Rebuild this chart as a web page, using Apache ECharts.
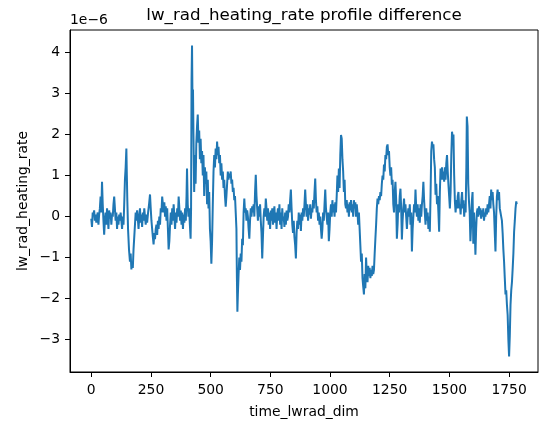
<!DOCTYPE html>
<html>
<head>
<meta charset="utf-8">
<script src="https://cdn.jsdelivr.net/npm/echarts@6/dist/echarts.min.js"></script>
<style>
html,body{margin:0;padding:0;background:#fff;}
#chart{width:541px;height:427px;}
</style>
</head>
<body>
<div id="chart"></div>
<script>
// x positions (time_lwrad_dim index)
var time_idx = [
0,3,6,9,12,15,18,21,24,27,
30,33,36,39,42,45,48,51,54,57,
60,63,66,69,72,75,78,81,84,87,
90,93,96,99,102,105,108,111,114,117,
120,123,126,129,132,135,138,141,144,147,
149,151,154,158,162,165,168,171,174,177,
180,183,186,189,192,195,198,201,204,207,
210,213,216,219,222,225,228,231,234,238,
242,246,249,252,255,258,261,264,267,270,
273,276,279,282,285,288,291,294,297,300,
303,306,309,312,315,318,321,324,327,330,
333,336,339,342,345,348,351,354,357,360,
363,366,369,372,375,378,381,384,387,390,
393,396,399,401,404,407,410,413,416,418,
420,422,424,426,428,431,434,437,440,443,
446,449,452,455,458,461,464,467,470,473,
476,479,482,485,488,491,494,497,500,503,
506,509,512,515,518,521,524,527,530,533,
536,539,542,545,548,551,554,557,560,563,
566,569,572,575,578,581,584,587,590,593,
596,599,602,605,608,610,612,614,617,620,
623,626,629,632,635,638,641,644,647,650,
653,656,659,662,665,668,671,674,677,680,
683,686,689,692,695,698,701,704,707,710,
713,716,719,722,725,728,731,734,737,740,
743,746,749,752,755,758,761,764,767,770,
773,776,779,782,785,788,791,794,797,800,
803,806,809,812,815,818,821,824,827,830,
833,836,839,842,845,848,851,854,857,860,
863,866,869,872,875,878,881,884,887,890,
893,896,899,902,905,908,911,914,917,920,
923,926,929,932,935,938,941,944,947,950,
953,956,959,962,965,968,971,974,977,980,
983,986,989,992,995,998,1001,1004,1007,1010,
1013,1016,1019,1022,1025,1028,1031,1034,1037,1040,
1043,1046,1049,1052,1055,1058,1061,1064,1067,1070,
1073,1076,1079,1082,1085,1088,1091,1094,1097,1100,
1103,1106,1109,1112,1115,1118,1121,1124,1127,1130,
1133,1136,1139,1142,1145,1148,1151,1154,1157,1160,
1163,1166,1169,1172,1175,1178,1181,1184,1187,1190,
1193,1196,1199,1202,1205,1208,1211,1214,1217,1220,
1223,1226,1229,1232,1235,1238,1241,1244,1247,1250,
1253,1256,1259,1262,1265,1268,1271,1274,1277,1280,
1283,1286,1289,1292,1295,1298,1301,1304,1307,1310,
1313,1316,1319,1322,1325,1328,1331,1334,1337,1340,
1343,1346,1349,1352,1355,1358,1361,1364,1367,1370,
1373,1376,1379,1382,1385,1388,1391,1394,1397,1400,
1403,1406,1409,1412,1415,1418,1421,1424,1427,1430,
1433,1436,1439,1442,1445,1448,1451,1454,1457,1460,
1463,1466,1469,1472,1475,1478,1481,1484,1487,1490,
1493,1496,1499,1502,1505,1508,1511,1514,1517,1520,
1523,1526,1529,1532,1535,1538,1541,1544,1547,1550,
1553,1556,1559,1562,1565,1568,1571,1573,1576,1579,
1582,1585,1588,1591,1594,1597,1600,1603,1606,1609,
1612,1615,1618,1621,1624,1627,1630,1633,1636,1639,
1642,1645,1648,1651,1654,1657,1660,1663,1666,1669,
1672,1675,1678,1681,1684,1687,1690,1693,1696,1699,
1702,1705,1708,1711,1714,1717,1720,1723,1726,1729,
1732,1735,1738,1741,1744,1747,1750,1753,1756,1759,
1762,1765,1768,1771,1774,1777,1780,1782
];
// lw_rad_heating_rate difference, in units of 1e-6
var diff_e6 = [
-0.05,-0.25,0.1,0.05,0.15,-0.1,0.05,-0.15,0.0,0.1,
-0.2,0.05,0.2,0.49,0.1,0.85,0.3,-0.1,-0.44,-0.1,
0.1,-0.2,0.2,0.0,-0.3,0.15,-0.05,0.1,-0.2,0.05,
0.0,0.3,0.49,0.2,-0.1,0.1,-0.3,0.0,-0.2,0.05,
-0.1,0.1,-0.1,-0.3,0.0,-0.2,0.3,0.9,1.2,1.66,
1.0,0.4,-0.3,-0.8,-1.1,-0.9,-1.29,-1.1,-1.25,-0.8,
-0.5,-0.2,0.1,-0.1,0.15,-0.05,-0.3,0.0,0.2,-0.15,
0.05,-0.25,0.1,-0.1,0.2,0.0,-0.2,0.05,-0.15,0.1,
0.3,0.54,0.2,-0.1,-0.3,-0.5,-0.68,-0.4,-0.55,-0.3,
-0.2,-0.45,-0.1,-0.3,0.0,-0.2,0.2,0.1,0.49,0.3,
0.1,0.35,0.0,0.25,-0.1,0.2,-0.3,-0.8,-0.6,-0.2,
0.1,-0.2,0.2,-0.1,0.3,0.0,-0.3,0.1,-0.15,0.2,
0.0,0.49,0.2,-0.1,0.15,-0.2,0.1,-0.3,0.05,-0.15,
0.2,-0.1,0.5,1.17,0.3,0.0,0.2,-0.2,-0.54,0.2,
3.3,4.17,2.8,3.1,2.0,0.6,1.5,0.8,1.8,2.2,
2.49,1.8,2.1,1.4,1.9,1.3,1.6,1.0,1.5,0.5,
1.2,0.8,1.1,0.3,0.9,0.2,0.6,-0.3,-0.6,-1.15,
-0.6,0.3,1.1,1.5,1.2,1.66,1.4,1.83,1.5,1.7,
1.3,1.5,1.0,1.3,0.9,1.1,0.7,0.9,0.5,0.24,
0.5,0.8,1.1,0.9,1.05,0.95,1.1,0.8,0.9,0.6,
0.7,0.4,0.5,0.1,-0.3,-1.5,-2.32,-1.9,-1.4,-1.0,
-1.3,-0.9,-1.1,-0.54,-0.7,0.1,0.44,0.1,0.2,-0.1,
0.15,0.0,-0.3,-0.54,-0.1,0.2,0.0,0.25,0.1,0.3,
0.0,0.6,1.02,0.5,0.2,-0.1,0.25,0.0,0.3,-0.1,
-0.4,-1.02,-0.5,0.0,0.2,0.0,0.44,0.2,-0.1,0.2,
-0.2,0.1,-0.3,0.15,-0.1,0.2,-0.2,0.0,0.25,-0.15,
0.1,-0.3,0.05,0.2,-0.1,0.3,-0.2,0.1,-0.3,0.2,
-0.1,0.0,-0.25,0.1,-0.2,0.15,-0.1,0.0,0.3,0.1,
0.4,0.66,0.2,-0.2,-0.4,-0.1,-0.5,-0.7,-1.02,-0.4,
-0.1,-0.3,0.1,-0.2,0.05,-0.35,0.1,-0.1,0.2,0.0,
0.3,0.66,0.3,0.0,0.3,-0.1,0.2,0.05,0.3,-0.05,
0.2,0.1,0.4,0.2,0.6,0.93,0.4,0.1,0.25,-0.1,
0.1,-0.2,0.0,-0.3,-0.54,-0.3,0.1,-0.1,0.3,0.66,
0.2,0.0,-0.2,0.1,-0.6,-0.3,0.1,0.3,0.0,0.4,
0.1,0.3,0.0,0.35,0.1,0.5,1.0,0.6,1.17,0.7,
1.5,1.99,1.9,1.4,1.1,0.6,0.9,0.3,0.2,0.4,
0.1,0.3,0.0,0.35,0.15,0.4,0.1,0.3,0.0,0.4,
0.2,0.35,0.0,0.3,0.1,-0.2,0.1,-0.3,-0.7,-1.1,
-0.9,-1.5,-1.7,-1.9,-1.4,-1.75,-1.0,-1.4,-1.6,-1.2,
-1.45,-1.25,-1.5,-1.3,-1.45,-1.2,-1.4,-1.3,-0.9,-0.54,
-0.2,0.2,0.44,0.3,0.5,0.4,0.6,0.5,0.8,1.0,
0.9,1.27,1.1,1.5,1.4,1.7,1.76,1.5,1.6,1.2,
1.0,1.2,0.78,0.9,0.3,0.1,0.6,0.85,0.4,-0.54,
-0.2,0.3,0.1,0.5,0.68,0.2,-0.56,-0.1,0.2,0.44,
0.1,0.3,0.0,-0.3,0.0,0.2,0.0,0.3,-0.2,0.1,
-0.85,-0.3,0.0,0.3,0.1,0.66,0.2,0.0,0.3,-0.1,
0.2,-0.15,0.3,0.0,0.3,0.5,0.85,0.4,0.1,-0.2,
0.2,-0.1,0.1,-0.3,0.0,-0.37,0.5,1.6,1.83,1.7,
1.76,1.4,1.2,0.53,0.8,0.3,0.5,0.1,-0.37,0.6,
1.17,0.9,1.2,0.9,1.1,0.85,1.2,0.9,1.3,1.5,
1.1,0.78,0.5,0.2,0.6,1.5,2.07,1.9,2.0,1.0,
0.37,0.1,0.4,0.2,0.5,0.6,0.2,0.3,0.05,0.4,
0.6,0.2,0.4,0.0,0.3,0.1,1.2,2.44,2.2,0.8,
0.37,0.1,-0.6,-0.2,0.37,0.6,-0.66,0.1,-0.3,-0.93,
-0.3,0.1,0.2,0.0,0.25,0.05,0.2,-0.05,0.15,0.0,
0.2,-0.1,0.1,0.0,0.2,0.05,0.3,0.1,0.3,0.5,
0.2,0.66,0.4,0.6,0.3,0.1,-0.4,-0.85,0.0,0.5,
0.66,0.4,0.6,0.2,0.1,0.0,-0.1,-0.4,-0.8,-1.1,
-1.5,-1.9,-1.8,-2.15,-2.4,-3.0,-3.41,-2.9,-2.15,-1.8,
-1.6,-1.27,-0.9,-0.37,-0.1,0.2,0.37,0.3
];
var x_ticks = [0, 250, 500, 750, 1000, 1250, 1500, 1750];
var y_ticks = [-3, -2, -1, 0, 1, 2, 3, 4];

var FONT = 'DejaVu Sans';
var n = Math.min(time_idx.length, diff_e6.length);
var seriesData = [];
for (var i = 0; i < n; i++) seriesData.push([time_idx[i], diff_e6[i]]);

var chart = echarts.init(document.getElementById('chart'), null, {renderer: 'canvas'});
chart.setOption({
  animation: false,
  backgroundColor: '#ffffff',
  grid: {left: 70, right: 3, top: 30, bottom: 55, show: true, borderColor: '#000', borderWidth: 1, backgroundColor: 'transparent'},
  xAxis: {
    type: 'value', min: -89.1, max: 1871.1,
    axisLine: {show: true, onZero: false, lineStyle: {color: '#000', width: 1}},
    axisTick: {show: true, length: 5, lineStyle: {color: '#000', width: 1}, customValues: x_ticks},
    axisLabel: {color: '#000', fontFamily: FONT, fontSize: 13.9, margin: 11, customValues: x_ticks,
      formatter: function (v) { return v < 0 ? '\u2212' + (-v) : String(v); }},
    splitLine: {show: false}
  },
  yAxis: {
    type: 'value', min: -3.79, max: 4.55,
    axisLine: {show: true, onZero: false, lineStyle: {color: '#000', width: 1}},
    axisTick: {show: true, length: 5, lineStyle: {color: '#000', width: 1}, customValues: y_ticks},
    axisLabel: {color: '#000', fontFamily: FONT, fontSize: 13.9, margin: 10, customValues: y_ticks,
      formatter: function (v) { return v < 0 ? '\u2212' + (-v) : String(v); }},
    splitLine: {show: false}
  },
  series: [{
    type: 'line', data: seriesData, showSymbol: false, symbol: 'none',
    lineStyle: {color: '#1f77b4', width: 2}, z: 1
  }],
  graphic: [
    {type: 'text', x: 304, y: 16, style: {text: 'lw_rad_heating_rate profile difference', font: '16.7px "DejaVu Sans"', fill: '#000', align: 'center', verticalAlign: 'middle', textAlign: 'center', textVerticalAlign: 'middle'}},
    {type: 'text', x: 70, y: 20, style: {text: '1e\u22126', font: '13.9px "DejaVu Sans"', fill: '#000', align: 'left', verticalAlign: 'middle', textAlign: 'left', textVerticalAlign: 'middle'}},
    {type: 'text', x: 304, y: 412, style: {text: 'time_lwrad_dim', font: '13.9px "DejaVu Sans"', fill: '#000', align: 'center', verticalAlign: 'middle', textAlign: 'center', textVerticalAlign: 'middle'}},
    {type: 'text', x: 23, y: 201, rotation: Math.PI / 2, style: {text: 'lw_rad_heating_rate', font: '13.9px "DejaVu Sans"', fill: '#000', align: 'center', verticalAlign: 'middle', textAlign: 'center', textVerticalAlign: 'middle'}}
  ]
});
</script>
</body>
</html>
